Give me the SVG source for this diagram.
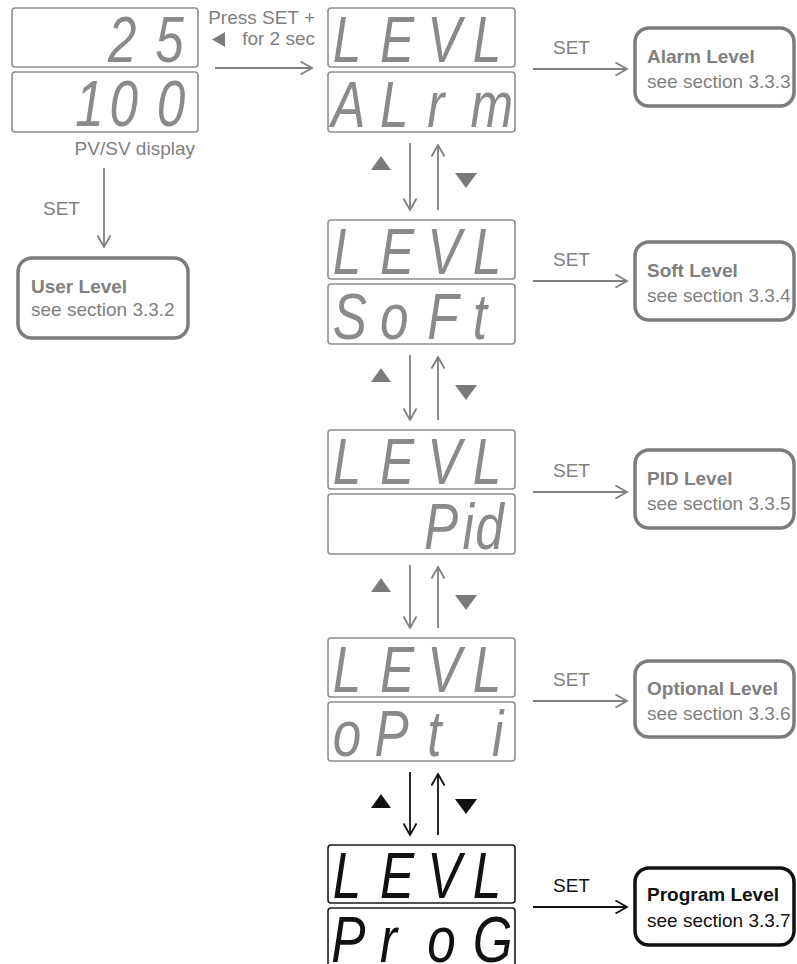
<svg xmlns="http://www.w3.org/2000/svg" width="797" height="964" viewBox="0 0 797 964">
<style>
.bg{fill:#fff}
.disp{fill:#fff;stroke:#8e8e8e;stroke-width:1.6}
.disp.k{stroke:#1a1a1a}
.seg{font-family:"Liberation Sans",Arial,sans-serif;font-style:italic;font-size:64px;fill:#8a8a8a}
.seg.k{fill:#111}
.lbl{font-family:"Liberation Sans",Arial,sans-serif;font-size:19px;fill:#808080}
.lbl.k{fill:#111}
.ttl{font-weight:bold}
.lvl{fill:#fff;stroke:#7c7c7c;stroke-width:3.5}
.lvl.k{stroke:#111}
.conn{stroke:#808080;stroke-width:1.8;fill:none}
.conn.k{stroke:#111}
.tri{fill:#7a7a7a}
.tri.k{fill:#111}
</style>
<defs>
<marker id="ag" viewBox="0 0 14 14" refX="12.5" refY="7" markerWidth="14" markerHeight="14" markerUnits="userSpaceOnUse" orient="auto"><path d="M1,0.5 L12.5,7 L1,13.5" fill="none" stroke="#808080" stroke-width="1.8"/></marker>
<marker id="ak" viewBox="0 0 14 14" refX="12.5" refY="7" markerWidth="14" markerHeight="14" markerUnits="userSpaceOnUse" orient="auto"><path d="M1,0.5 L12.5,7 L1,13.5" fill="none" stroke="#111" stroke-width="1.8"/></marker>
</defs>
<rect class="bg" x="0" y="0" width="797" height="964"/>

<g id="connectors">
<line class="conn" x1="215" y1="68" x2="312" y2="68" marker-end="url(#ag)"/>
<line class="conn" x1="104" y1="168" x2="104" y2="247" marker-end="url(#ag)"/>
<line class="conn" x1="533" y1="69" x2="627" y2="69" marker-end="url(#ag)"/>
<line class="conn" x1="533" y1="281" x2="627" y2="281" marker-end="url(#ag)"/>
<line class="conn" x1="533" y1="492" x2="627" y2="492" marker-end="url(#ag)"/>
<line class="conn" x1="533" y1="701" x2="627" y2="701" marker-end="url(#ag)"/>
<line class="conn k" x1="533" y1="907" x2="627" y2="907" marker-end="url(#ak)"/>
<line class="conn" x1="410" y1="143" x2="410" y2="210" marker-end="url(#ag)"/>
<line class="conn" x1="438" y1="210" x2="438" y2="145" marker-end="url(#ag)"/>
<line class="conn" x1="410" y1="355" x2="410" y2="420" marker-end="url(#ag)"/>
<line class="conn" x1="438" y1="420" x2="438" y2="357" marker-end="url(#ag)"/>
<line class="conn" x1="410" y1="565" x2="410" y2="628" marker-end="url(#ag)"/>
<line class="conn" x1="438" y1="628" x2="438" y2="567" marker-end="url(#ag)"/>
<line class="conn k" x1="410" y1="772" x2="410" y2="835" marker-end="url(#ak)"/>
<line class="conn k" x1="438" y1="835" x2="438" y2="774" marker-end="url(#ak)"/>
<polygon class="tri" points="371,170 391,170 381,156"/>
<polygon class="tri" points="455,173 477,173 466,188"/>
<polygon class="tri" points="371,382 391,382 381,368"/>
<polygon class="tri" points="455,385 477,385 466,400"/>
<polygon class="tri" points="371,592 391,592 381,578"/>
<polygon class="tri" points="455,595 477,595 466,610"/>
<polygon class="tri k" points="371,808 391,808 381,794"/>
<polygon class="tri k" points="455,799 477,799 466,814"/>
<text class="lbl" x="43" y="215">SET</text>
<text class="lbl" x="553" y="54">SET</text>
<text class="lbl" x="553" y="266">SET</text>
<text class="lbl" x="553" y="477">SET</text>
<text class="lbl" x="553" y="686">SET</text>
<text class="lbl k" x="553" y="892">SET</text>
<text class="lbl" x="315" y="24" text-anchor="end">Press SET +</text>
<text class="lbl" x="315" y="45" text-anchor="end">for 2 sec</text>
<polygon class="tri" points="212,39.5 225,32 225,47"/>
</g>

<g id="pvsv">
<rect class="disp" x="12" y="8" width="186" height="59" rx="3"/>
<rect class="disp" x="12" y="72" width="186" height="60" rx="3"/>
<text class="seg" transform="translate(12,62) scale(0.8,1)"><tspan x="120" y="0">2</tspan><tspan x="179" y="0">5</tspan></text>
<text class="seg" transform="translate(12,126) scale(0.8,1)"><tspan x="79" y="0">1</tspan><tspan x="122" y="0">0</tspan><tspan x="181" y="0">0</tspan></text>
<text class="lbl" x="195" y="155" text-anchor="end">PV/SV display</text>
</g>

<g id="user-level">
<rect class="lvl" x="18" y="258" width="170" height="80" rx="14"/>
<text class="lbl ttl" x="31" y="293">User Level</text>
<text class="lbl" x="31" y="316">see section 3.3.2</text>
</g>

<g id="disp-alrm">
<rect class="disp" x="328" y="8" width="187" height="59" rx="3"/>
<rect class="disp" x="328" y="72" width="187" height="60" rx="3"/>
<text class="seg" transform="translate(328,62) scale(0.8,1)"><tspan x="6" y="0">L</tspan><tspan x="65" y="0">E</tspan><tspan x="124" y="0">V</tspan><tspan x="181" y="0">L</tspan></text>
<text class="seg" transform="translate(328,127) scale(0.8,1)"><tspan x="4" y="0">A</tspan><tspan x="65" y="0">L</tspan><tspan x="124" y="0">r</tspan><tspan x="178" y="0">m</tspan></text>
</g>

<g id="disp-soft">
<rect class="disp" x="328" y="220" width="187" height="59" rx="3"/>
<rect class="disp" x="328" y="284" width="187" height="60" rx="3"/>
<text class="seg" transform="translate(328,274) scale(0.8,1)"><tspan x="6" y="0">L</tspan><tspan x="65" y="0">E</tspan><tspan x="124" y="0">V</tspan><tspan x="181" y="0">L</tspan></text>
<text class="seg" transform="translate(328,339) scale(0.8,1)"><tspan x="6" y="0">S</tspan><tspan x="65" y="0">o</tspan><tspan x="124" y="0">F</tspan><tspan x="181" y="0">t</tspan></text>
</g>

<g id="disp-pid">
<rect class="disp" x="328" y="430" width="187" height="59" rx="3"/>
<rect class="disp" x="328" y="494" width="187" height="60" rx="3"/>
<text class="seg" transform="translate(328,484) scale(0.8,1)"><tspan x="6" y="0">L</tspan><tspan x="65" y="0">E</tspan><tspan x="124" y="0">V</tspan><tspan x="181" y="0">L</tspan></text>
<text class="seg" transform="translate(328,549) scale(0.8,1)"><tspan x="120" y="0">P</tspan><tspan x="168" y="0">i</tspan><tspan x="184" y="0">d</tspan></text>
</g>

<g id="disp-opti">
<rect class="disp" x="328" y="638" width="187" height="59" rx="3"/>
<rect class="disp" x="328" y="702" width="187" height="59" rx="3"/>
<text class="seg" transform="translate(328,692) scale(0.8,1)"><tspan x="6" y="0">L</tspan><tspan x="65" y="0">E</tspan><tspan x="124" y="0">V</tspan><tspan x="181" y="0">L</tspan></text>
<text class="seg" transform="translate(328,756) scale(0.8,1)"><tspan x="6" y="0">o</tspan><tspan x="58" y="0">P</tspan><tspan x="124" y="0">t</tspan><tspan x="205" y="0">i</tspan></text>
</g>

<g id="disp-prog">
<rect class="disp k" x="328" y="845" width="187" height="58" rx="3"/>
<rect class="disp k" x="328" y="908" width="187" height="60" rx="3"/>
<text class="seg k" transform="translate(328,898) scale(0.8,1)"><tspan x="6" y="0">L</tspan><tspan x="65" y="0">E</tspan><tspan x="124" y="0">V</tspan><tspan x="181" y="0">L</tspan></text>
<text class="seg k" transform="translate(328,962) scale(0.8,1)"><tspan x="4" y="0">P</tspan><tspan x="65" y="0">r</tspan><tspan x="124" y="0">o</tspan><tspan x="181" y="0">G</tspan></text>
</g>

<g id="alarm-level">
<rect class="lvl" x="635" y="28" width="159" height="78" rx="14"/>
<text class="lbl ttl" x="647" y="63">Alarm Level</text>
<text class="lbl" x="647" y="88">see section 3.3.3</text>
</g>
<g id="soft-level">
<rect class="lvl" x="635" y="242" width="159" height="78" rx="14"/>
<text class="lbl ttl" x="647" y="277">Soft Level</text>
<text class="lbl" x="647" y="302">see section 3.3.4</text>
</g>
<g id="pid-level">
<rect class="lvl" x="635" y="450" width="159" height="78" rx="14"/>
<text class="lbl ttl" x="647" y="485">PID Level</text>
<text class="lbl" x="647" y="510">see section 3.3.5</text>
</g>
<g id="optional-level">
<rect class="lvl" x="635" y="661" width="159" height="76" rx="14"/>
<text class="lbl ttl" x="647" y="695">Optional Level</text>
<text class="lbl" x="647" y="720">see section 3.3.6</text>
</g>
<g id="program-level">
<rect class="lvl k" x="635" y="868" width="159" height="77" rx="14"/>
<text class="lbl ttl k" x="647" y="901">Program Level</text>
<text class="lbl k" x="647" y="927">see section 3.3.7</text>
</g>
</svg>
